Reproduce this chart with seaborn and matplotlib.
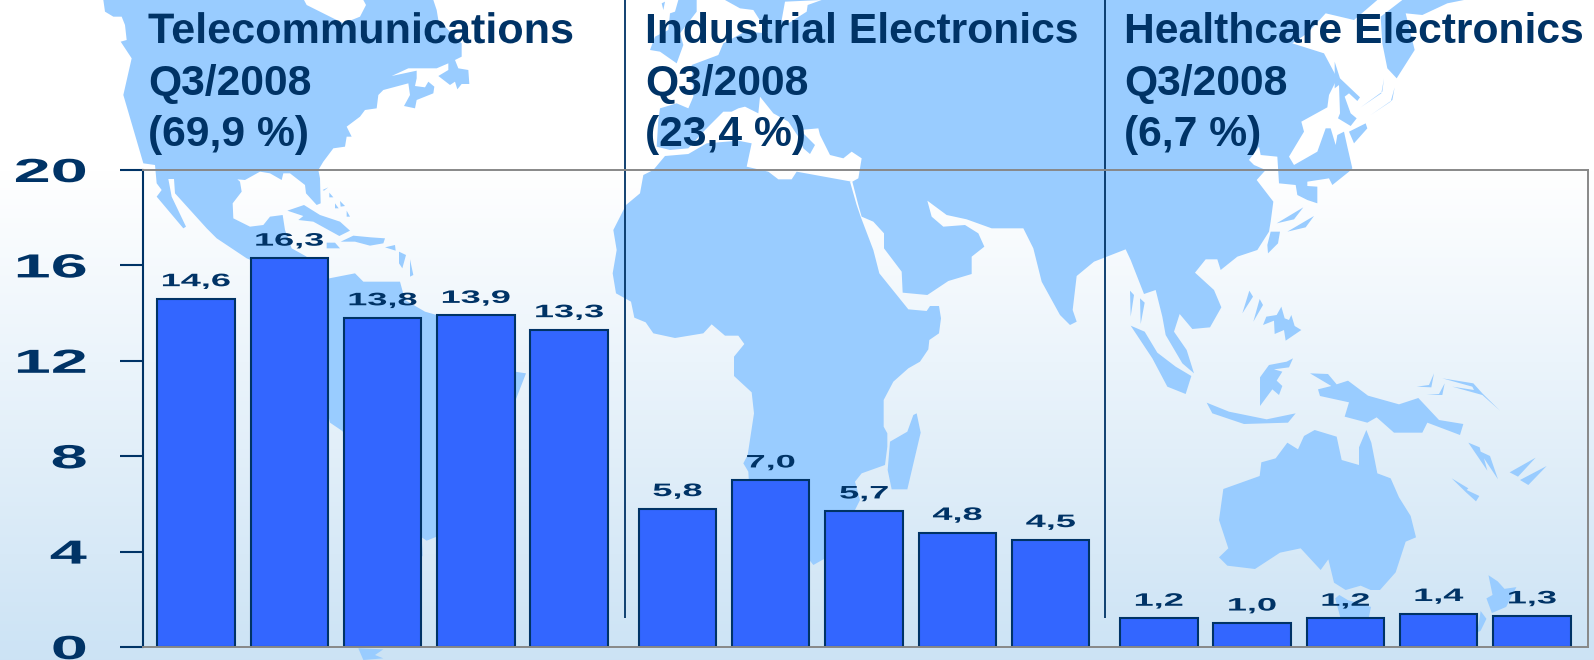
import numpy as np
import pandas as pd
import matplotlib
matplotlib.use("Agg")
import matplotlib.pyplot as plt
import matplotlib.patheffects as pe
from matplotlib.patches import Polygon
from matplotlib.transforms import Affine2D
import seaborn as sns

segment_names = ["Telecommunications", "Industrial Electronics", "Healthcare Electronics"]
period = "Q3/2008"
segment_shares = ["(69,9 %)", "(23,4 %)", "(6,7 %)"]
telecom_values = [14.6, 16.3, 13.8, 13.9, 13.3]
industrial_values = [5.8, 7.0, 5.7, 4.8, 4.5]
healthcare_values = [1.2, 1.0, 1.2, 1.4, 1.3]
y_ticks = [0, 4, 8, 12, 16, 20]

NAVY = "#003366"
BAR = "#3366FF"
LAND = "#99CCFF"
GRID = "#888888"
W, H = 1594, 660


class StretchX(pe.AbstractPathEffect):
    # wide look of the original lettering, text stays a real text object
    def __init__(self, sx, anchor=0.5):
        super().__init__()
        self.sx = sx
        self.anchor = anchor

    def draw_path(self, renderer, gc, tpath, affine, rgbFace=None):
        ext = tpath.get_extents()
        cx = ext.x0 + self.anchor * ext.width
        t = Affine2D().translate(-cx, 0).scale(self.sx, 1).translate(cx, 0) + affine
        renderer.draw_path(gc, tpath, t, rgbFace)


def z(pts, ox, oy, s=3.0):
    return [(ox + x / s, oy + y / s) for x, y in pts]


# background map, traced by hand in pixels
north_america = z([(10, 0), (15, 35), (40, 50), (65, 50), (75, 75), (80, 120), (62, 125), (95, 175), (70, 285),
                   (130, 490), (165, 495), (170, 550), (185, 570), (170, 590), (250, 685), (258, 680), (215, 590),
                   (205, 537), (222, 537), (225, 580), (320, 685), (350, 715), (440, 775), (500, 800), (600, 790),
                   (620, 770), (575, 745), (555, 690), (548, 645), (510, 650), (490, 675), (450, 680), (400, 655),
                   (398, 610), (425, 575), (420, 545), (412, 538), (435, 540), (480, 515), (510, 520), (545, 540),
                   (550, 520), (570, 520), (615, 555), (618, 580), (650, 615), (662, 610), (660, 535), (655, 510),
                   (670, 485), (700, 445), (735, 440), (740, 410), (755, 410), (740, 380), (780, 350), (795, 330),
                   (830, 325), (835, 285), (850, 270), (925, 250), (930, 285), (912, 318), (945, 325), (950, 300),
                   (1000, 280), (1003, 260), (985, 245), (975, 262), (945, 258), (950, 235), (950, 212), (875, 228),
                   (925, 205), (1010, 205), (1045, 190), (1045, 210), (1015, 228), (1050, 255), (1065, 245),
                   (1072, 268), (1085, 252), (1108, 252), (1105, 210), (1075, 205), (1065, 180), (1085, 170),
                   (1085, 130), (1015, 60), (1010, 30), (1000, 0), (790, 0), (798, 15), (780, 50), (730, 70),
                   (660, 35), (620, 15), (612, 0)], 100, 0)
south_america = (z([(688, 835), (765, 820), (790, 845), (900, 845), (915, 900), (975, 935), (1010, 945), (1200, 1110)], 100, 0)
                 + z([(645, 125), (678, 130), (645, 215), (410, 620), (380, 632), (365, 622), (368, 680), (127, 303), (90, 278)], 300, 330)
                 + z([(600, 880)], 100, 0))
cape_horn = z([(175, 955), (250, 958), (225, 975), (250, 985), (190, 990)], 300, 330)
caribbean = [z(p, 100, 0) for p in [
    [(562, 632), (612, 615), (660, 645), (720, 665), (750, 692), (718, 708), (640, 665), (595, 660), (610, 648)],
    [(722, 725), (760, 707), (812, 712), (855, 715), (850, 730), (810, 737), (765, 725)],
    [(855, 742), (885, 735), (887, 752)], [(897, 755), (918, 765), (907, 805), (897, 790)],
    [(930, 778), (940, 825), (930, 830)], [(668, 570), (685, 562), (672, 572)], [(688, 578), (700, 592), (688, 592)],
    [(705, 610), (716, 625), (705, 625)], [(720, 603), (735, 618), (722, 620)], [(740, 632), (750, 650), (740, 650)],
    [(680, 728), (705, 728), (720, 745), (680, 745)]]]

eurasia = ([(725, 0)]
           + z([(850, 0), (780, 60), (695, 40), (640, 100), (595, 130), (690, 160), (730, 235), (705, 285), (700, 322),
                (622, 365), (630, 395), (585, 470), (600, 495), (670, 455), (695, 385), (710, 385), (725, 435),
                (730, 405), (750, 395), (760, 440), (775, 505), (765, 515), (715, 555), (705, 535), (640, 545),
                (640, 558), (670, 560), (670, 610), (640, 600), (610, 585), (605, 555), (555, 550), (550, 470),
                (500, 465), (495, 440), (465, 480), (480, 495), (515, 510), (488, 540), (538, 605), (530, 665),
                (525, 695), (490, 750), (430, 770), (380, 810), (370, 778), (335, 778)], 1094, 0)
           + z([(303, 38), (360, 90), (382, 142), (348, 202), (295, 207), (257, 162), (240, 215), (278, 270), (300, 340),
                (265, 310), (215, 225), (205, 170), (185, 90), (150, 102), (110, 0)], 1094, 260)
           + z([(95, 748), (0, 785)], 1094, 0)
           + z([(1430, 828), (1418, 930), (1430, 965), (1410, 975), (1380, 945), (1325, 845), (1300, 745), (1270, 685),
                (1175, 685), (1100, 658), (1040, 645), (982, 602), (995, 650), (1030, 680), (1095, 675), (1135, 700),
                (1153, 740), (1115, 770), (1115, 822), (1045, 843), (982, 885), (908, 878), (905, 815), (852, 745),
                (852, 700), (820, 665), (785, 650), (775, 615), (757, 545)], 600, 0)
           + z([(700, 295), (710, 235), (680, 215), (655, 235), (615, 225), (585, 165), (580, 145), (525, 150), (570, 195),
                (555, 222), (535, 205), (520, 170), (490, 125), (445, 100), (405, 50), (400, 100), (360, 80), (340, 85),
                (320, 95), (295, 95), (240, 150), (190, 205), (135, 210), (95, 200), (100, 120), (105, 85), (155, 70),
                (190, 85), (205, 50)], 625, 80)
           + z([(200, 195), (280, 165), (295, 130), (360, 95), (430, 100), (385, 30), (345, 25), (300, 0)], 625, 0))
white_sea = z([(470, 60), (480, 5), (590, 0), (548, 15), (545, 35), (490, 70)], 625, 0)
uk = [z([(150, 35), (160, 0), (215, 0), (215, 35), (165, 100), (175, 135), (155, 190), (105, 155), (75, 150), (90, 110),
         (130, 90), (135, 40)], 625, 0),
      z([(110, 10), (120, 5), (115, 30)], 625, 0)]
kamchatka = z([(925, 0), (1110, 0), (1060, 10), (985, 45), (935, 40), (962, 150), (908, 235), (880, 205), (865, 130),
               (860, 50)], 1094, 0)
japan = [z(p, 1094, 0) for p in [
    [(722, 185), (738, 235), (798, 292), (790, 303), (765, 280), (752, 290), (770, 340), (788, 355), (770, 378),
     (732, 355), (738, 340), (735, 255), (722, 265)],
    [(765, 395), (815, 370), (820, 385), (780, 430)],
    [(530, 695), (558, 695), (552, 730), (522, 760), (520, 735)],
    [(548, 670), (628, 622), (600, 658)], [(580, 695), (660, 648), (635, 682)],
    [(800, 322), (865, 275), (870, 235), (862, 280)], [(830, 345), (895, 300), (902, 262), (890, 305)]]]
africa = (z([(680, 305), (515, 275), (500, 298), (460, 298), (430, 275), (365, 260), (380, 190), (340, 182), (245, 190),
             (190, 222), (120, 228), (85, 270), (55, 285)], 625, 80)
          + z([(120, 580), (78, 615), (40, 690), (50, 750), (38, 820), (48, 880)], 600, 0)
          + z([(93, 155), (103, 203), (137, 217), (160, 250), (225, 264), (310, 250), (335, 223), (375, 257), (415, 257),
               (433, 282), (402, 320), (402, 378), (455, 427), (462, 490), (443, 615), (430, 640), (445, 665), (447, 700),
               (640, 945), (672, 927), (765, 780), (780, 750), (765, 695), (785, 670), (855, 645), (862, 590), (862, 550),
               (851, 530), (851, 450), (880, 395), (925, 355), (960, 335), (985, 298), (988, 270), (1017, 250),
               (1023, 205), (1017, 168), (990, 168), (980, 183), (925, 178), (838, 70)], 600, 250)
          + z([(820, 750), (782, 650), (770, 615), (750, 545)], 600, 0))
madagascar = z([(870, 575), (922, 545), (940, 495), (950, 490), (962, 548), (922, 718), (875, 718), (863, 660)], 600, 250)
pacific = [z(p, 1094, 260) for p in [
    [(108, 92), (120, 105), (110, 170)], [(138, 115), (152, 128), (140, 192)],
    [(110, 197), (152, 215), (190, 278), (245, 320), (292, 348), (275, 402), (220, 380), (175, 295)],
    [(338, 428), (405, 455), (518, 478), (605, 460), (582, 488), (450, 492), (355, 460)],
    [(445, 160), (466, 92), (477, 110)], [(478, 185), (497, 117), (507, 135)],
    [(507, 195), (517, 170), (548, 165), (562, 140), (572, 175), (585, 180), (592, 165), (602, 198), (622, 210), (575, 242),
     (570, 210), (542, 222), (540, 182)],
    [(498, 438), (498, 352), (525, 315), (578, 305), (597, 295), (585, 322), (540, 328), (565, 335), (548, 362), (565, 378),
     (555, 405), (535, 388)],
    [(648, 340), (702, 342), (728, 373), (762, 362), (822, 407), (915, 433), (973, 414), (1035, 480), (1108, 492),
     (1098, 525), (1000, 488), (985, 518), (900, 518), (848, 472), (820, 488), (752, 470), (765, 427), (678, 408),
     (672, 388), (712, 378)],
    [(968, 380), (1005, 375), (1020, 340), (1012, 382)], [(998, 405), (1035, 402), (1052, 370), (1045, 405)],
    [(1045, 355), (1138, 370), (1165, 400), (1218, 452), (1165, 405), (1075, 380), (1140, 390), (1135, 380)],
    [(1123, 548), (1157, 562), (1160, 575), (1188, 588), (1212, 658), (1170, 595), (1180, 632)],
    [(1247, 637), (1325, 593), (1272, 650)], [(1278, 660), (1358, 618), (1303, 675)],
    [(1073, 655), (1123, 685), (1118, 690), (1156, 708), (1146, 724), (1116, 697)],
    [(375, 780), (388, 687), (497, 648), (502, 607), (545, 595), (580, 548), (612, 568), (630, 528), (662, 510), (728, 530),
     (743, 600), (795, 615), (795, 562), (817, 510), (832, 548), (850, 640), (890, 655), (915, 712), (950, 768), (966, 832),
     (935, 845), (905, 937), (858, 990), (830, 990), (800, 977), (755, 990), (720, 968), (703, 898), (680, 930), (620, 865),
     (558, 878), (483, 927), (400, 917), (375, 892), (403, 865)]]]
south_pacific = [z(p, 1060, 440, 2.936) for p in [
    [(808, 465), (820, 455), (845, 470), (913, 490), (905, 530), (850, 535), (825, 528)],
    [(1258, 397), (1285, 415), (1305, 437), (1340, 432), (1310, 490), (1268, 508), (1252, 465), (1270, 455)],
    [(1235, 502), (1252, 525), (1235, 560), (1225, 565)]]]

land = ([north_america, south_america, cape_horn, eurasia, kamchatka, africa, madagascar]
        + caribbean + uk + japan + pacific + south_pacific)

values = telecom_values + industrial_values + healthcare_values
group = np.repeat([0, 1, 2], 5)
df = pd.DataFrame({"pos": np.arange(15) + 0.16 * group, "value": values})

sns.set_theme(style="white")
plt.rcParams["font.family"] = ["Liberation Sans", "DejaVu Sans"]

fig = plt.figure(figsize=(W / 100, H / 100), dpi=100)

bg = fig.add_axes([0, 0, 1, 1], zorder=0)
grad = np.linspace(0, 1, 490)[:, None]
top_col, bot_col = np.array([1, 1, 1]), np.array([0.80, 0.89, 0.96])
bg.imshow(top_col + grad[:, :, None] * (bot_col - top_col), extent=(0, W, H, 170), aspect="auto", zorder=0)
bg.set_xlim(0, W)
bg.set_ylim(H, 0)
bg.axis("off")
for pts in land:
    bg.add_patch(Polygon(pts, closed=True, fc=LAND, ec="none", zorder=1))
bg.add_patch(Polygon(white_sea, closed=True, fc="white", ec="none", zorder=2))
for x in (625, 1105):
    bg.plot([x, x], [0, 618], color=NAVY, lw=1.3, zorder=3, solid_capstyle="butt")

title_x = [148, 645, 1124]
for i, name in enumerate(segment_names):
    for text, y in zip((name, period, segment_shares[i]), (43, 94.5, 146)):
        t = bg.text(title_x[i], y, text, color=NAVY, fontsize=30.7, fontweight="bold", va="baseline", ha="left", zorder=4)
        if text == "Telecommunications":
            t.set_path_effects([StretchX(1.012, anchor=0.0)])

ax = fig.add_axes([143 / W, 1 - 647 / H, (1588 - 143) / W, (647 - 170) / H], zorder=1)
ax.patch.set_alpha(0)
sns.barplot(data=df, x="pos", y="value", native_scale=True, width=0.83, color=BAR, saturation=1,
            edgecolor=NAVY, linewidth=1.5, ax=ax)

unit = 93.3
ax.set_xlim(-53 / unit, (1588 - 196) / unit)
ax.set_ylim(0, 20)
ax.set_xticks([])
ax.set_yticks(y_ticks)
ax.set_xlabel("")
ax.set_ylabel("")
ax.tick_params(axis="y", left=True, length=16.6, width=1.5, color=NAVY, pad=24, labelsize=24, labelcolor=NAVY)
for lab in ax.get_yticklabels():
    lab.set_fontweight("bold")
    lab.set_path_effects([StretchX(2.0, anchor=1.0)])

for side in ("top", "right", "bottom"):
    ax.spines[side].set_color(GRID)
    ax.spines[side].set_linewidth(1.4)
    ax.spines[side].set_visible(True)
ax.spines["left"].set_color(NAVY)
ax.spines["left"].set_linewidth(1.5)
ax.spines["left"].set_visible(True)

labels = [f"{v:.1f}".replace(".", ",") for v in values]
ax.bar_label(ax.containers[0], labels=labels, padding=6.2, color=NAVY, fontsize=13, fontweight="bold",
             path_effects=[StretchX(2.0)])

fig.savefig("out.png", dpi=100)
